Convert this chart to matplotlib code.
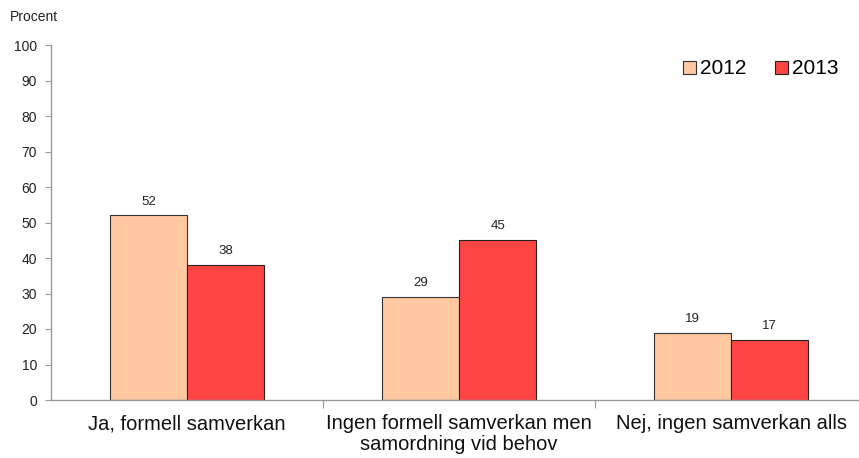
import matplotlib
matplotlib.use("Agg")
import matplotlib.pyplot as plt
import numpy as np

categories = ["Ja, formell samverkan", "Ingen formell samverkan men\nsamordning vid behov", "Nej, ingen samverkan alls"]
years = ["2012", "2013"]
values_2012 = [52, 29, 19]
values_2013 = [38, 45, 17]
yticks = list(range(0, 101, 10))

plt.rcParams['font.family'] = ['Liberation Sans', 'DejaVu Sans']

fig = plt.figure(figsize=(8.59, 4.58), dpi=100)
ax = fig.add_axes([51/859, 58/458, 808/859, 355/458])

x = np.arange(len(categories))
w = 0.283
c12 = '#FFC8A0'
c13 = '#FF4444'
b1 = ax.bar(x - w/2, values_2012, w, color=c12, edgecolor='#333333', linewidth=0.8, label=years[0])
b2 = ax.bar(x + w/2, values_2013, w, color=c13, edgecolor='#222222', linewidth=0.8, label=years[1])
for bars, vals in ((b1, values_2012), (b2, values_2013)):
    for r, v in zip(bars, vals):
        ax.text(r.get_x() + r.get_width()/2, v + 2.2, str(v), ha='center', va='bottom', fontsize=9.5, color='#222222')

ax.set_xlim(-0.5, 2.47)
ax.set_ylim(0, 100)
ax.set_yticks(yticks)
ax.tick_params(axis='y', labelsize=10, length=4, color='#999999', pad=6, labelcolor='#222222')
ax.set_xticks([0.5, 1.5])
ax.set_xticklabels([])
ax.tick_params(axis='x', length=6, color='#999999')
for i, c in enumerate(categories):
    ax.text(i, -4.0, c, ha='center', va='top', fontsize=14.5, color='#111111', linespacing=1.15)
for s in ['top', 'right']:
    ax.spines[s].set_visible(False)
for s in ['left', 'bottom']:
    ax.spines[s].set_color('#999999')
    ax.spines[s].set_linewidth(1.0)

leg = ax.legend(loc='upper right', bbox_to_anchor=(0.998, 1.012), ncol=2, frameon=False, fontsize=15,
                handlelength=0.6, handleheight=0.6, handletextpad=0.2, columnspacing=1.4)

fig.text(10/859, 1 - 17/458, "Procent", fontsize=10, va='center', ha='left', color='#222222')
fig.savefig("out.png", dpi=100)
